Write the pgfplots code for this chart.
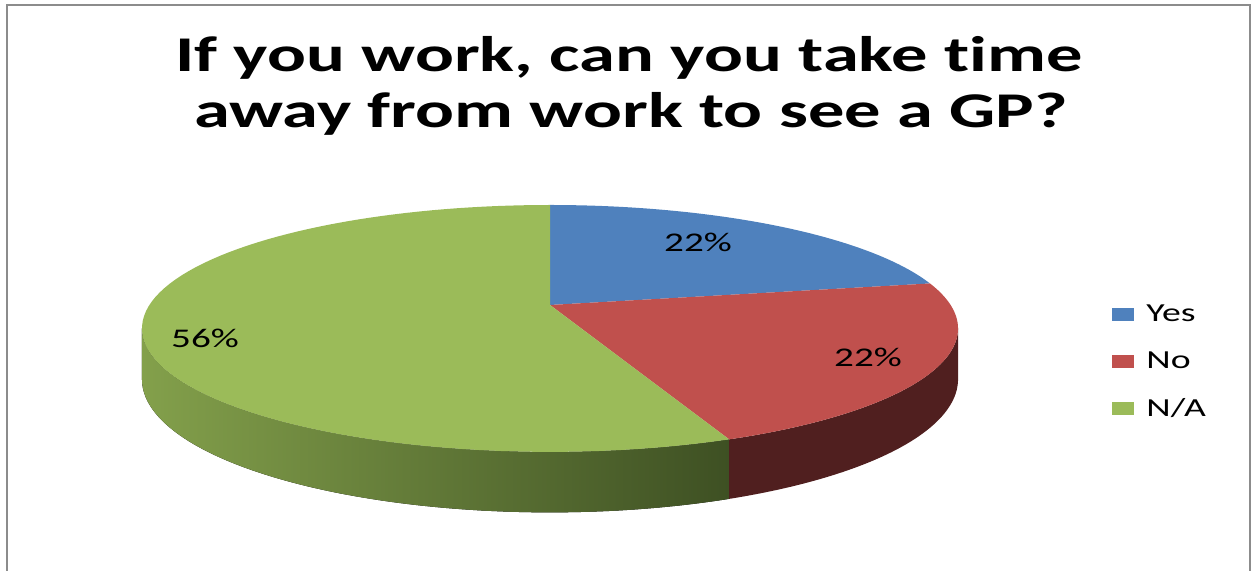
\documentclass[border=0pt]{standalone}
\usepackage{fontspec}
\setmainfont{Carlito}[FakeStretch=1.45, Ligatures=NoCommon]
\usepackage{pgfplots}
\usepackage{pgfplotstable}
\pgfplotsset{compat=1.18}
\usepgfplotslibrary{fillbetween}

\definecolor{yesC}{HTML}{4F81BD}
\definecolor{noC}{HTML}{C0504D}
\definecolor{naC}{HTML}{9BBB59}
\definecolor{noSide}{HTML}{501F1F}
\definecolor{naSideL}{HTML}{83A04B}
\definecolor{naSideR}{HTML}{3E5023}
\definecolor{frameC}{HTML}{8C8C8C}

\pgfplotstableread{
label share
Yes 22
No 22
N/A 56
}\piedata

\pgfplotstablegetelem{0}{share}\of\piedata \let\sYes\pgfplotsretval
\pgfplotstablegetelem{1}{share}\of\piedata \let\sNo\pgfplotsretval
\pgfplotstablegetelem{2}{share}\of\piedata \let\sNa\pgfplotsretval

% pie geometry (pixels): apex, radii, perspective factor, depth
\def\pieX{550}\def\pieY{266}
\def\pieA{400.6}\def\pieB{119}
\def\pieK{0.19}\def\pieD{49}

% slice boundaries, clockwise from 12 o'clock
\pgfmathsetmacro\tA{90}
\pgfmathsetmacro\tB{\tA-3.6*\sYes}
\pgfmathsetmacro\tC{\tB-3.6*\sNo}
\pgfmathsetmacro\tD{\tC-3.6*\sNa}
\pgfmathsetmacro\tR{-asin(\pieK)}
\pgfmathsetmacro\tL{-180+asin(\pieK)}

\begin{document}
\begin{tikzpicture}
\begin{axis}[
    x=0.5pt, y=0.5pt,
    xmin=0, xmax=1253, ymin=0, ymax=571,
    hide axis, clip=false,
    legend image code/.code={\fill[#1] (0pt,-3.25pt) rectangle (11pt,3.25pt);},
    legend cell align=left,
    legend style={at={(axis description cs:0.8875,0.366)}, anchor=west,
        draw=none, fill=none, inner sep=0pt, row sep=9.5pt, column sep=4pt,
        font=\fontsize{13}{15}\selectfont},
    every axis plot/.append style={variable=\t, samples=90, draw=none, forget plot},
]
% side walls
\addplot[name path=gt, domain=\tL:\tC] ({\pieX+\pieA*cos(\t)/(1+\pieK*sin(\t))},{\pieY+\pieB*sin(\t)/(1+\pieK*sin(\t))});
\addplot[name path=gb, domain=\tL:\tC] ({\pieX+\pieA*cos(\t)/(1+\pieK*sin(\t))},{\pieY+(\pieB*sin(\t)-\pieD)/(1+\pieK*sin(\t))});
\addplot[left color=naSideL, right color=naSideR] fill between[of=gt and gb];
\addplot[name path=rt, domain=\tC:\tR] ({\pieX+\pieA*cos(\t)/(1+\pieK*sin(\t))},{\pieY+\pieB*sin(\t)/(1+\pieK*sin(\t))});
\addplot[name path=rb, domain=\tC:\tR] ({\pieX+\pieA*cos(\t)/(1+\pieK*sin(\t))},{\pieY+(\pieB*sin(\t)-\pieD)/(1+\pieK*sin(\t))});
\addplot[fill=noSide] fill between[of=rt and rb];
% top faces
\addplot[fill=yesC, domain=\tB:\tA] ({\pieX+\pieA*cos(\t)/(1+\pieK*sin(\t))},{\pieY+\pieB*sin(\t)/(1+\pieK*sin(\t))}) -- (axis cs:\pieX,\pieY) -- cycle;
\addplot[fill=noC, domain=\tC:\tB] ({\pieX+\pieA*cos(\t)/(1+\pieK*sin(\t))},{\pieY+\pieB*sin(\t)/(1+\pieK*sin(\t))}) -- (axis cs:\pieX,\pieY) -- cycle;
\addplot[fill=naC, domain=\tD:\tC] ({\pieX+\pieA*cos(\t)/(1+\pieK*sin(\t))},{\pieY+\pieB*sin(\t)/(1+\pieK*sin(\t))}) -- (axis cs:\pieX,\pieY) -- cycle;
% data labels
\node[anchor=base, font=\fontsize{13.5}{16}\selectfont] at (axis cs:698,319) {\sYes\%};
\node[anchor=base, font=\fontsize{13.5}{16}\selectfont] at (axis cs:868,204) {\sNo\%};
\node[anchor=base, font=\fontsize{13.5}{16}\selectfont] at (axis cs:205,223) {\sNa\%};
% title
\node[anchor=base, font=\fontsize{25}{30}\selectfont\bfseries] at (axis cs:629,499) {If you work, can you take time};
\node[anchor=base, font=\fontsize{25}{30}\selectfont\bfseries] at (axis cs:631,443) {away from work to see a GP?};
% chart frame
\draw[frameC, line width=1pt] (axis cs:6.5,-6) -- (axis cs:6.5,566) -- (axis cs:1249.5,566) -- (axis cs:1249.5,-6);
% legend
\addlegendimage{fill=yesC, draw=none}\addlegendentry{Yes}
\addlegendimage{fill=noC, draw=none}\addlegendentry{No}
\addlegendimage{fill=naC, draw=none}\addlegendentry{N/A}
\end{axis}
\pgfresetboundingbox
\path[use as bounding box] (0,0) rectangle (626.5pt,285.5pt);
\end{tikzpicture}
\end{document}
